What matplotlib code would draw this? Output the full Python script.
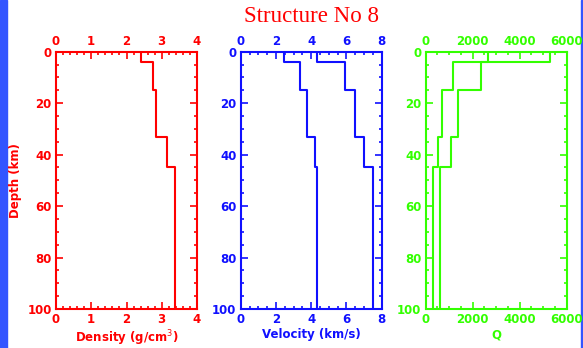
import matplotlib
matplotlib.use("Agg")
import matplotlib.pyplot as plt
import numpy as np
from matplotlib.patches import Rectangle
from matplotlib.ticker import MultipleLocator

# layer tops/bottoms (km)
depth_bounds = [0, 4, 15, 33, 45, 100]

density = [2.42, 2.76, 2.83, 3.16, 3.38]
vs = [2.48, 3.37, 3.75, 4.22, 4.33]
vp = [4.35, 5.89, 6.49, 6.97, 7.50]
qs = [2640, 1180, 680, 540, 300]
qp = [5290, 2340, 1390, 1060, 610]

RED = "#ff0000"
BLUE = "#1010ff"
GREEN = "#33ff00"
LW = 1.5


def profile(values):
    d = np.array(depth_bounds)
    y = np.column_stack([d[:-1], d[1:]]).ravel()
    x = np.repeat(values, 2)
    return x, y


def style_axis(ax, color, xmax, xmajor, xminor, xlabel, ylabel=None):
    ax.set_xlim(0, xmax)
    ax.set_ylim(100, 0)
    ax.xaxis.set_major_locator(MultipleLocator(xmajor))
    ax.xaxis.set_minor_locator(MultipleLocator(xminor))
    ax.yaxis.set_major_locator(MultipleLocator(20))
    ax.yaxis.set_minor_locator(MultipleLocator(5))
    ax.tick_params(which="both", direction="in", top=True, right=True,
                   labeltop=True, color=color, labelcolor=color, width=1.2)
    ax.tick_params(which="major", length=5, pad=3, labelsize=8.5)
    ax.tick_params(which="minor", length=2.5)
    for lab in ax.get_xticklabels() + ax.get_yticklabels():
        lab.set_fontweight("bold")
    for sp in ax.spines.values():
        sp.set_color(color)
        sp.set_linewidth(LW)
    ax.set_xlabel(xlabel, color=color, fontsize=8.5, fontweight="bold", labelpad=1.5)
    if ylabel:
        ax.set_ylabel(ylabel, color=color, fontsize=8.5, fontweight="bold", labelpad=4)


fig = plt.figure(figsize=(5.83, 3.48), dpi=100)
fig.patch.set_facecolor("white")

W, H = 583, 348
bottom = 1 - 309 / H
height = (309 - 51.7) / H
width = 141 / W

ax1 = fig.add_axes([56 / W, bottom, width, height])
ax2 = fig.add_axes([240.7 / W, bottom, width, height])
ax3 = fig.add_axes([425.7 / W, bottom, width, height])

x, y = profile(density)
ax1.plot(x, y, color=RED, lw=LW)
style_axis(ax1, RED, 4, 1, 0.2, "Density (g/cm$^3$)", "Depth (km)")

for v in (vs, vp):
    x, y = profile(v)
    ax2.plot(x, y, color=BLUE, lw=LW)
style_axis(ax2, BLUE, 8, 2, 0.5, "Velocity (km/s)")

for q in (qs, qp):
    x, y = profile(q)
    ax3.plot(x, y, color=GREEN, lw=LW)
style_axis(ax3, GREEN, 6000, 2000, 500, "Q")

fig.text(311 / W, 1 - 17 / H, "Structure No 8", color=RED, fontsize=16.5,
         family="Liberation Serif", ha="center", va="center")

fig.add_artist(Rectangle((0, 0), 7 / W, 1, transform=fig.transFigure,
                         color="#3355ff", zorder=-1))
fig.add_artist(Rectangle((581 / W, 0), 2 / W, 1, transform=fig.transFigure,
                         color="#3355ff", zorder=-1))

fig.savefig("out.png", dpi=100, facecolor="white")
